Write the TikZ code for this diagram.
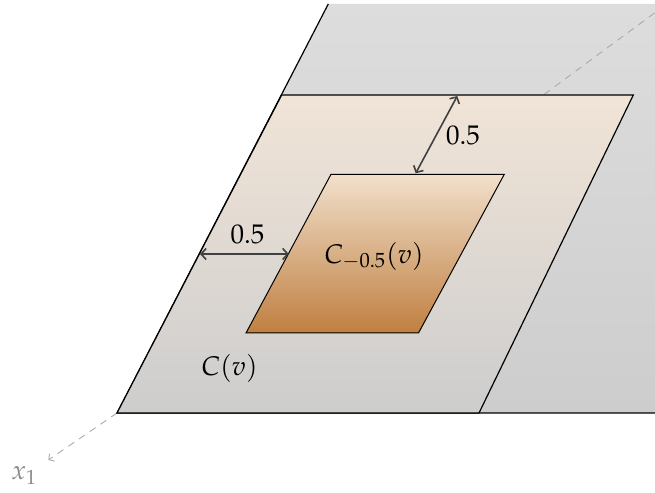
\documentclass[tikz,border=0pt]{standalone}
\usepackage{mathpazo}
\usetikzlibrary{arrows.meta}
\definecolor{hightgray}{RGB}{221,221,221}
\definecolor{lowgray}{RGB}{205,205,205}
\definecolor{peach}{RGB}{241,228,215}
\definecolor{peachlight}{RGB}{241,224,204}
\definecolor{copper}{RGB}{192,127,64}
\definecolor{arrowgray}{RGB}{64,64,64}
\definecolor{axisgray}{RGB}{170,170,170}

\begin{document}
\begin{tikzpicture}[x=0.5pt,y=0.5pt,
    edge/.style={draw=black, line width=0.6pt},
    gap/.style={draw=arrowgray, line width=0.8pt, {Straight Barb[length=2.5pt,width=5.5pt]}-{Straight Barb[length=2.5pt,width=5.5pt]}},
    xaxis/.style={draw=axisgray, line width=0.45pt, dash pattern=on 3.5pt off 3pt},
    lbl/.style={font=\fontsize{13.5}{16}\selectfont, inner sep=0pt}
]
    \useasboundingbox (0,0) rectangle (655,493);

    % corners of the planes
    \coordinate (o-bl) at (117,80);
    \coordinate (o-tl) at (328.3,489);
    \coordinate (o-tr) at (655,489);
    \coordinate (o-br) at (655,80);
    \coordinate (c-bl) at (117,80);
    \coordinate (c-tl) at (281.7,398);
    \coordinate (c-tr) at (633.3,398);
    \coordinate (c-br) at (479,80);
    \coordinate (i-bl) at (246,160);
    \coordinate (i-tl) at (331,318.7);
    \coordinate (i-tr) at (504.3,318.7);
    \coordinate (i-br) at (418.5,160);

    % outer plane
    \shade[top color=hightgray, bottom color=lowgray] (o-bl) -- (o-tl) -- (o-tr) -- (o-br) -- cycle;
    \draw[edge] (o-tl) -- (o-bl) -- (o-br);

    % x_1 axis
    \coordinate (ax-far) at (655,480.4);
    \coordinate (ax-mid) at (544.3,398.7);
    \coordinate (ax-end) at (48.3,33);
    \draw[xaxis] (ax-mid) -- (ax-far);
    \draw[xaxis, -{Straight Barb[length=2pt,width=4.5pt]}] (o-bl) -- (ax-end);
    \node[lbl, text=black!45] (x1) at (24.3,17) {$x_1$};

    % C(v)
    \shade[top color=peach, bottom color=lowgray] (c-bl) -- (c-tl) -- (c-tr) -- (c-br) -- cycle;
    \draw[edge] (c-bl) -- (c-tl) -- (c-tr) -- (c-br) -- cycle;

    % C_{-0.5}(v)
    \shade[top color=peachlight, bottom color=copper] (i-bl) -- (i-tl) -- (i-tr) -- (i-br) -- cycle;
    \draw[edge, line width=0.5pt] (i-bl) -- (i-tl) -- (i-tr) -- (i-br) -- cycle;

    % distances
    \coordinate (h-l) at (200,239);
    \coordinate (h-r) at (288.8,239);
    \coordinate (d-t) at (457.3,397);
    \coordinate (d-b) at (415.7,319.7);
    \draw[gap] (h-l) -- (h-r);
    \draw[gap] (d-t) -- (d-b);
    \node[lbl] (gapleft) at (247.5,259) {$0.5$};
    \node[lbl] (gaptop) at (463,358) {$0.5$};

    \node[lbl] (cinner) at (374,237) {$C_{-0.5}(v)$};
    \node[lbl] (couter) at (229.5,125) {$C(v)$};
\end{tikzpicture}
\end{document}
